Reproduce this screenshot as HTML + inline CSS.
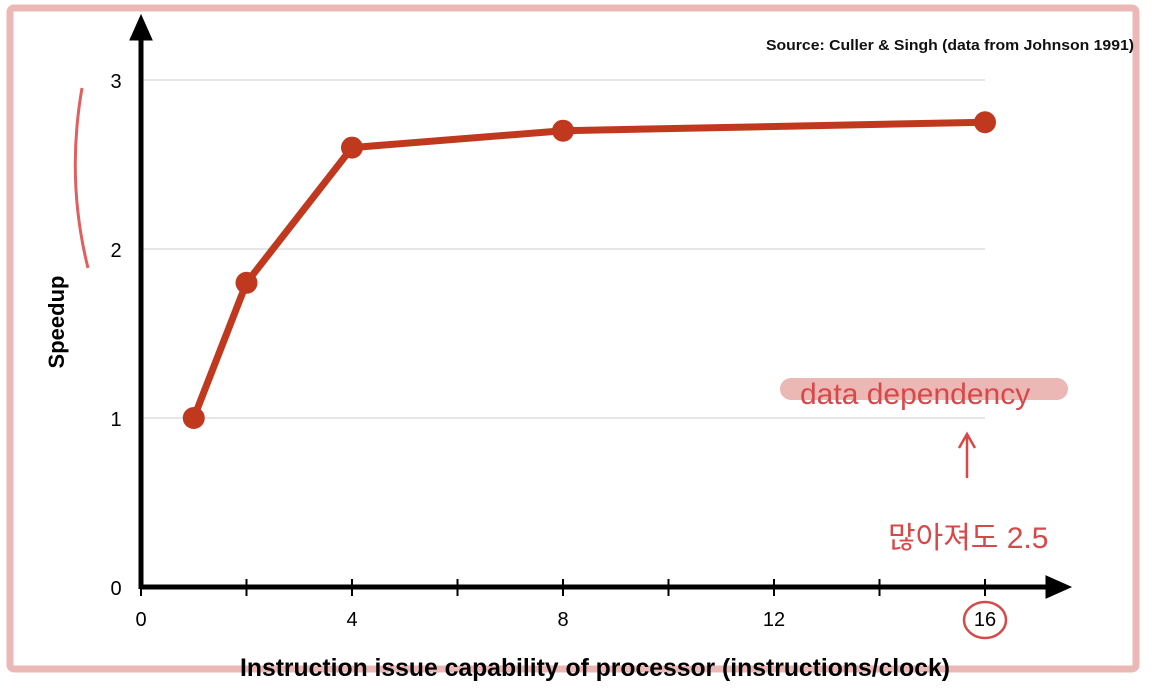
<!DOCTYPE html>
<html><head><meta charset="utf-8"><style>
body{margin:0;background:#fff;width:1152px;height:692px;overflow:hidden}
svg{display:block}
</style></head><body>
<svg width="1152" height="692" font-family="'Liberation Sans', 'Noto Sans CJK KR', sans-serif">
<rect x="10" y="8" width="1126" height="661" rx="4" fill="none" stroke="#ebb8b6" stroke-width="7"/>
<g id="grid"></g>
<g id="axes"></g>
<g id="series"></g>
<text x="766" y="50" textLength="368" lengthAdjust="spacingAndGlyphs" font-size="15" font-weight="bold" fill="#111">Source: Culler &amp; Singh (data from Johnson 1991)</text>
<text x="0" y="0" transform="translate(64,322) rotate(-90)" text-anchor="middle" font-size="22" font-weight="bold">Speedup</text>
<text x="240" y="676" textLength="710" lengthAdjust="spacingAndGlyphs" font-size="25" font-weight="bold">Instruction issue capability of processor (instructions/clock)</text>
<path d="M82 88 Q66 180 88 268" fill="none" stroke="#e06060" stroke-width="3"/>
<rect x="780" y="378" width="288" height="22" rx="11" fill="#ebb8b6"/>
<text x="800" y="404" font-size="30" fill="#d84848" font-family="'Liberation Sans', sans-serif">data dependency</text>
<path d="M967 478 L967 436 M959 448 L967 434 L975 448" fill="none" stroke="#d84848" stroke-width="2.5"/>
<text x="888" y="548" font-size="30" fill="#d84848">많아져도 2.5</text>
<ellipse cx="985" cy="620" rx="21" ry="18" fill="none" stroke="#d84848" stroke-width="2.5"/>
</svg>
<script>
const xVals=[1,2,4,8,16];
const speedups=[1,1.8,2.6,2.7,2.75];
const yTicks=[0,1,2,3];
const xLabels=[0,4,8,12,16];
const xTickVals=[0,2,4,6,8,10,12,14,16];
const NS='http://www.w3.org/2000/svg';
const X=v=>141+v*52.75, Y=v=>587-v*169;
function mk(t,a,p){const e=document.createElementNS(NS,t);for(const k in a)e.setAttribute(k,a[k]);p.appendChild(e);return e;}
const g=document.getElementById('grid'),ax=document.getElementById('axes'),s=document.getElementById('series');
yTicks.forEach(v=>{
 if(v>0){const l=mk('line',{x1:141,x2:985,y1:Y(v),y2:Y(v),stroke:'#ccc','stroke-width':1},g);
 
 }
 const t=mk('text',{x:116,y:Y(v)+8,'text-anchor':'middle','font-size':20},ax);t.textContent=v;
 
 
});
xTickVals.forEach(v=>{const l=mk('line',{x1:X(v),x2:X(v),y1:579,y2:596,stroke:'#000','stroke-width':2},ax);
 
 });
xLabels.forEach(v=>{const t=mk('text',{x:X(v),y:626,'text-anchor':'middle','font-size':20},ax);t.textContent=v;
 
 });
const xa=mk('path',{d:'M141 587 L1050 587 M1048 579 L1066 587 L1048 595 Z',stroke:'#000','stroke-width':5,fill:'#000'},ax);


const ya=mk('path',{d:'M141 589 L141 35 M133 38 L141 20 L149 38 Z',stroke:'#000','stroke-width':5,fill:'#000'},ax);


const ln=mk('polyline',{points:xVals.map((x,i)=>X(x)+','+Y(speedups[i])).join(' '),fill:'none',stroke:'#c0391f','stroke-width':7,'stroke-linejoin':'round'},s);


xVals.forEach((x,i)=>{const c=mk('circle',{cx:X(x),cy:Y(speedups[i]),r:11,fill:'#c0391f'},s);
 
 });
</script>
</body></html>
